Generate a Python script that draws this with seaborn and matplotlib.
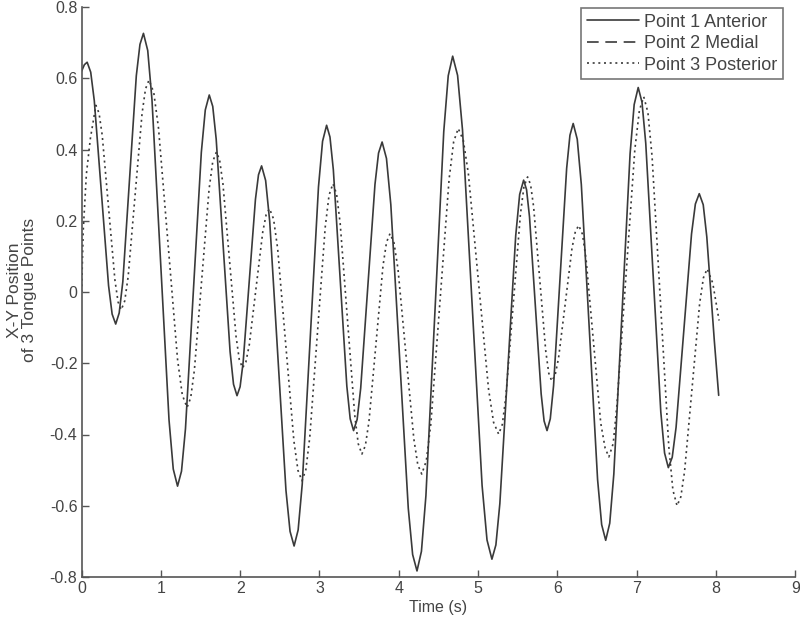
import numpy as np
import pandas as pd
import seaborn as sns
import matplotlib
matplotlib.use("Agg")
import matplotlib.pyplot as plt

# tongue point positions (time in s, position)
anterior_t = [0.00, 0.035, 0.07,
              0.115, 0.16, 0.25, 0.34, 0.385, 0.43,
              0.474, 0.52, 0.605, 0.69, 0.736, 0.78,
              0.834, 0.8875, 0.995, 1.1025, 1.156, 1.21,
              1.26, 1.31, 1.41, 1.51, 1.56, 1.61,
              1.654, 1.6975, 1.785, 1.8725, 1.916, 1.96,
              1.999, 2.0375, 2.115, 2.1925, 2.231, 2.27,
              2.321, 2.3725, 2.475, 2.5775, 2.629, 2.68,
              2.731, 2.7825, 2.885, 2.9875, 3.039, 3.09,
              3.1325, 3.175, 3.26, 3.345, 3.3875, 3.43,
              3.475, 3.52, 3.61, 3.70, 3.745, 3.79,
              3.845, 3.90, 4.01, 4.12, 4.175, 4.23,
              4.286, 4.3425, 4.455, 4.5675, 4.624, 4.68,
              4.742, 4.804, 4.9275, 5.051, 5.113, 5.175,
              5.225, 5.275, 5.375, 5.475, 5.525, 5.575,
              5.612, 5.649, 5.7225, 5.796, 5.833, 5.87,
              5.911, 5.9525, 6.035, 6.1175, 6.159, 6.20,
              6.251, 6.3025, 6.405, 6.5075, 6.559, 6.61,
              6.661, 6.7125, 6.815, 6.9175, 6.969, 7.02,
              7.0675, 7.115, 7.21, 7.305, 7.3525, 7.40,
              7.449, 7.4975, 7.595, 7.6925, 7.741, 7.79,
              7.84, 7.885, 7.98, 8.035]
anterior_v = [0.62, 0.638, 0.645,
              0.617, 0.537, 0.278, 0.018, -0.062, -0.09,
              -0.059, 0.029, 0.318, 0.607, 0.695, 0.726,
              0.678, 0.540, 0.090, -0.359, -0.497, -0.545,
              -0.503, -0.384, 0.004, 0.392, 0.511, 0.553,
              0.521, 0.429, 0.131, -0.167, -0.259, -0.291,
              -0.266, -0.197, 0.032, 0.260, 0.329, 0.354,
              0.313, 0.198, -0.180, -0.557, -0.672, -0.713,
              -0.668, -0.540, -0.123, 0.295, 0.423, 0.468,
              0.435, 0.343, 0.040, -0.264, -0.356, -0.389,
              -0.358, -0.270, 0.016, 0.302, 0.390, 0.421,
              0.375, 0.245, -0.181, -0.607, -0.737, -0.783,
              -0.728, -0.572, -0.061, 0.450, 0.607, 0.662,
              0.608, 0.455, -0.044, -0.543, -0.696, -0.750,
              -0.710, -0.594, -0.218, 0.158, 0.274, 0.314,
              0.287, 0.211, -0.038, -0.286, -0.362, -0.389,
              -0.356, -0.263, 0.042, 0.347, 0.440, 0.473,
              0.429, 0.302, -0.112, -0.526, -0.653, -0.697,
              -0.649, -0.511, -0.062, 0.388, 0.526, 0.574,
              0.533, 0.418, 0.041, -0.337, -0.452, -0.493,
              -0.464, -0.380, -0.109, 0.163, 0.247, 0.276,
              0.245, 0.155, -0.137, -0.29]

# medial point: listed in the legend, no trace visible in the reference
medial_t = []
medial_v = []

posterior_t = [0.00, 0.02, 0.06, 0.11, 0.18,
               0.22, 0.26, 0.34, 0.42, 0.46, 0.50,
               0.544, 0.5875, 0.675, 0.7625, 0.806, 0.85,
               0.91, 0.97, 1.09, 1.21, 1.27, 1.33,
               1.376, 1.4225, 1.515, 1.6075, 1.654, 1.70,
               1.741, 1.7825, 1.865, 1.9475, 1.989, 2.03,
               2.0725, 2.115, 2.20, 2.285, 2.3275, 2.37,
               2.421, 2.4725, 2.575, 2.6775, 2.729, 2.78,
               2.829, 2.8775, 2.975, 3.0725, 3.121, 3.17,
               3.216, 3.261, 3.3525, 3.444, 3.489, 3.535,
               3.579, 3.624, 3.7125, 3.801, 3.846, 3.89,
               3.94, 3.99, 4.09, 4.19, 4.24, 4.29,
               4.3475, 4.405, 4.52, 4.635, 4.6925, 4.75,
               4.814, 4.8775, 5.005, 5.1325, 5.196, 5.26,
               5.306, 5.351, 5.4425, 5.534, 5.579, 5.625,
               5.663, 5.701, 5.7775, 5.854, 5.892, 5.93,
               5.9725, 6.015, 6.10, 6.185, 6.2275, 6.27,
               6.3175, 6.3625, 6.455, 6.5475, 6.6025, 6.65,
               6.705, 6.7525, 6.865, 6.9775, 7.035, 7.09,
               7.1425, 7.195, 7.30, 7.405, 7.4575, 7.51,
               7.5575, 7.605, 7.70, 7.795, 7.8425, 7.89,
               7.96, 8.04]
posterior_v = [0.0, 0.17, 0.33, 0.43, 0.524,
               0.502, 0.440, 0.237, 0.034, -0.028, -0.05,
               -0.025, 0.044, 0.273, 0.501, 0.570, 0.595,
               0.560, 0.460, 0.136, -0.189, -0.289, -0.324,
               -0.297, -0.219, 0.035, 0.288, 0.366, 0.393,
               0.370, 0.304, 0.090, -0.124, -0.190, -0.213,
               -0.196, -0.148, 0.011, 0.169, 0.217, 0.234,
               0.205, 0.122, -0.148, -0.418, -0.501, -0.53,
               -0.498, -0.408, -0.113, 0.182, 0.272, 0.304,
               0.275, 0.193, -0.076, -0.344, -0.426, -0.455,
               -0.431, -0.364, -0.146, 0.073, 0.140, 0.164,
               0.138, 0.065, -0.174, -0.412, -0.485, -0.511,
               -0.474, -0.369, -0.026, 0.317, 0.422, 0.459,
               0.426, 0.333, 0.030, -0.273, -0.366, -0.399,
               -0.372, -0.293, -0.038, 0.217, 0.296, 0.323,
               0.301, 0.239, 0.037, -0.166, -0.228, -0.25,
               -0.233, -0.186, -0.032, 0.123, 0.170, 0.187,
               0.162, 0.092, -0.138, -0.368, -0.438, -0.463,
               -0.425, -0.315, 0.043, 0.400, 0.510, 0.548,
               0.504, 0.380, -0.026, -0.432, -0.556, -0.60,
               -0.575, -0.503, -0.268, -0.032, 0.040, 0.065,
               0.025, -0.08]

x_ticks = [0, 1, 2, 3, 4, 5, 6, 7, 8, 9]
y_ticks = [-0.8, -0.6, -0.4, -0.2, 0, 0.2, 0.4, 0.6, 0.8]
y_tick_labels = ["-0.8", "-0.6", "-0.4", "-0.2", "0", "0.2", "0.4", "0.6", "0.8"]

sns.set_style("white")
plt.rcParams['font.family'] = ['Liberation Sans', 'DejaVu Sans']

line_col = "#3a3a3a"
axis_col = "#555555"
text_col = "#444444"

fig = plt.figure(figsize=(8, 6.25), dpi=100)
ax = fig.add_axes([0.102, 0.0768, 0.892, 0.912])

sns.lineplot(x=anterior_t, y=anterior_v, ax=ax, color=line_col, lw=1.2,
             linestyle="-", label="Point 1 Anterior", sort=False)
ax.plot(medial_t, medial_v, color=line_col, lw=1.2, linestyle=(0, (7, 4)),
        label="Point 2 Medial")
sns.lineplot(x=posterior_t, y=posterior_v, ax=ax, color=line_col, lw=1.2,
             linestyle=(0, (1.2, 2.2)), label="Point 3 Posterior", sort=False)

ax.set_xlim(0, 9)
ax.set_ylim(-0.8, 0.8)
ax.set_xticks(x_ticks)
ax.set_yticks(y_ticks)
ax.set_yticklabels(y_tick_labels)

for side in ["top", "right"]:
    ax.spines[side].set_visible(False)
for side in ["left", "bottom"]:
    ax.spines[side].set_color(axis_col)
    ax.spines[side].set_linewidth(1.2)

ax.tick_params(direction="in", length=5, width=1, color=axis_col,
               labelcolor=text_col, labelsize=11.5, pad=3,
               left=True, bottom=True)

ax.set_xlabel("Time (s)", color=text_col, fontsize=11.5, labelpad=3)
ax.set_ylabel("X-Y Position\nof 3 Tongue Points", color=text_col, fontsize=12.5,
              linespacing=0.95)
ax.yaxis.set_label_coords(-0.063, 0.503)

leg = ax.legend(loc="upper right", bbox_to_anchor=(0.983, 0.998), fontsize=13,
                frameon=True, fancybox=False, handlelength=2.9, borderpad=0.3,
                labelspacing=0.25, handletextpad=0.3, borderaxespad=0)
leg.get_frame().set_edgecolor(axis_col)
leg.get_frame().set_linewidth(1.2)
for txt in leg.get_texts():
    txt.set_color(text_col)

fig.savefig("out.png", dpi=100)
